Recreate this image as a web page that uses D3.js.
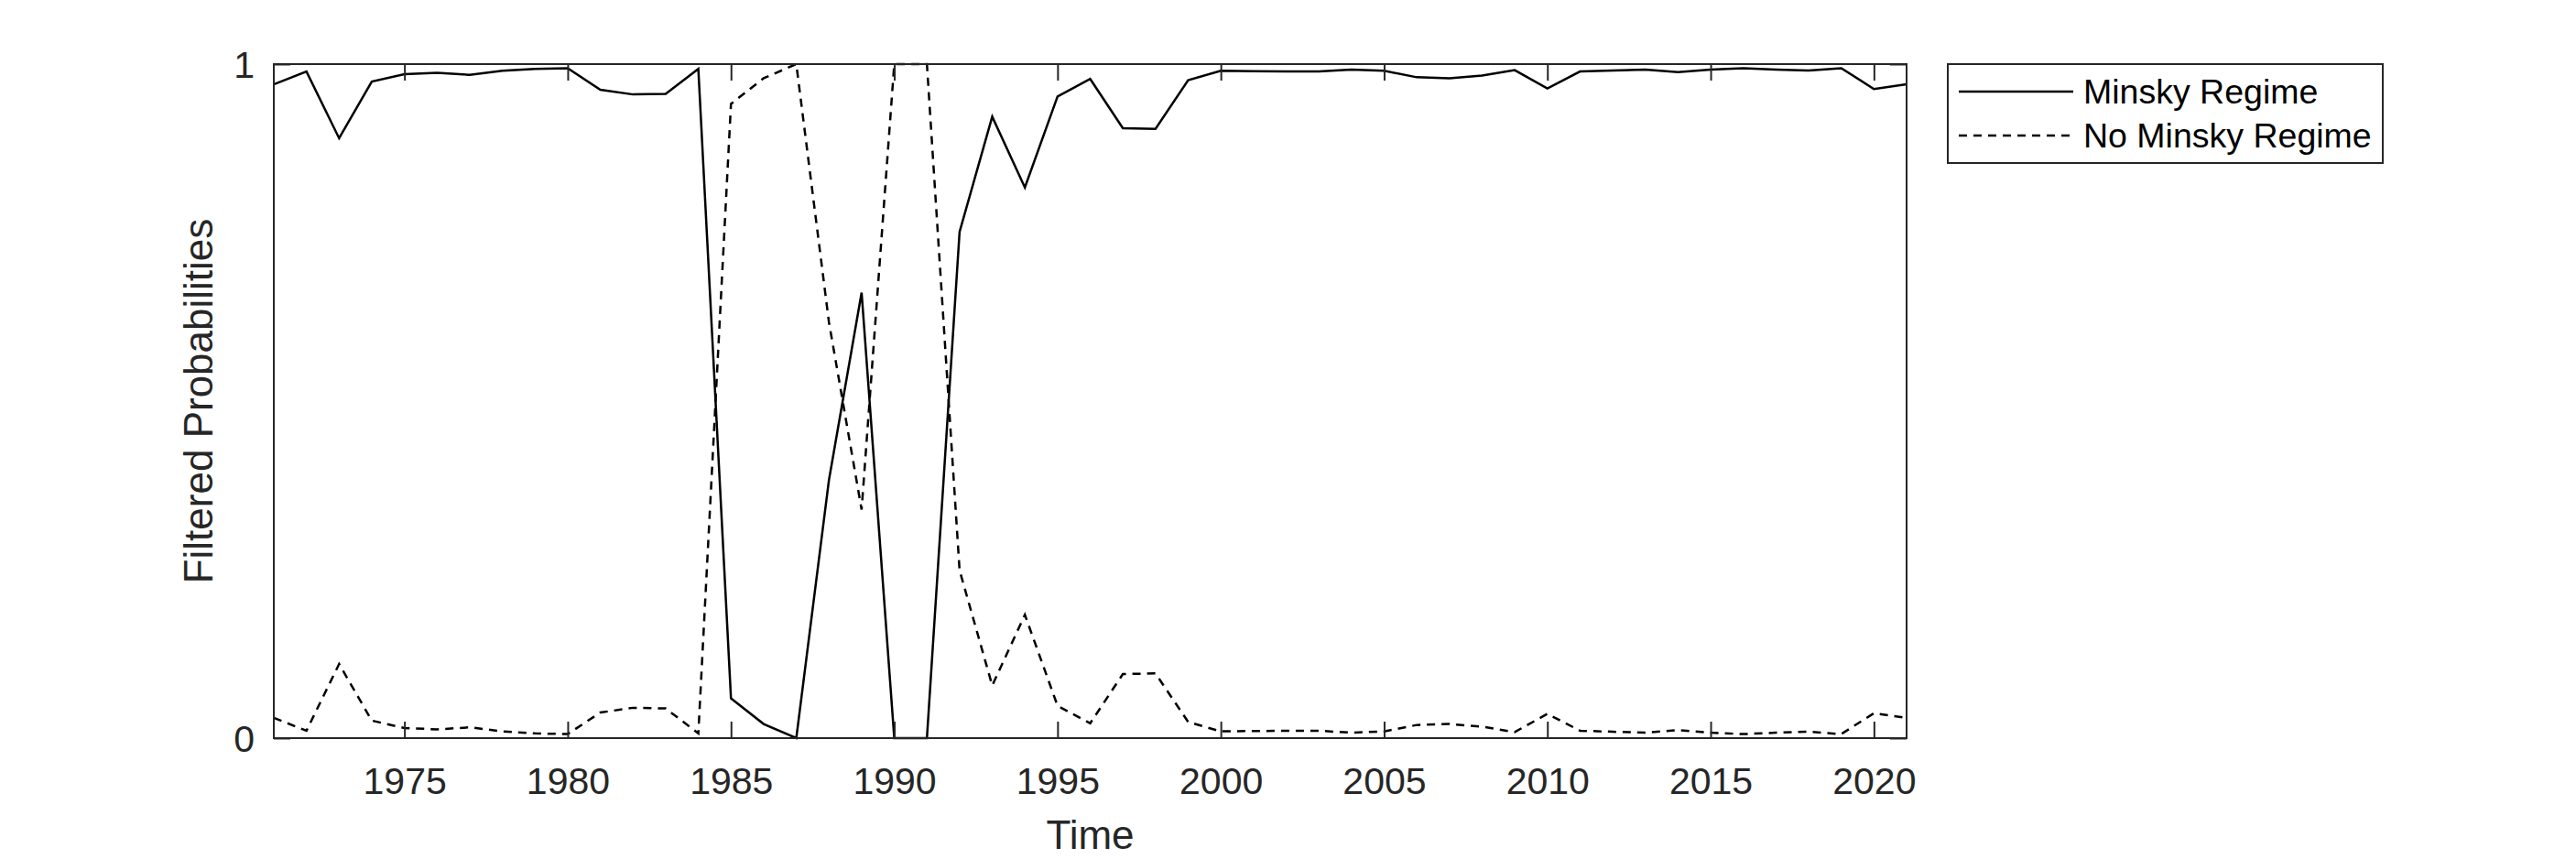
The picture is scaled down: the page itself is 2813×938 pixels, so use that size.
<!DOCTYPE html>
<html>
<head>
<meta charset="utf-8">
<script src="https://cdn.jsdelivr.net/npm/d3@7"></script>
<style>
  html, body { margin: 0; padding: 0; background: #fff; }
  svg { display: block; }
  text { font-family: "Liberation Sans", Arial, Helvetica, sans-serif; fill: #262626; }
</style>
</head>
<body>
<svg id="chart" width="2813" height="938"></svg>
<script>
const years = d3.range(1971, 2022);
const minskyRegime = [
  0.970, 0.989, 0.890, 0.974, 0.985, 0.987, 0.984, 0.990, 0.993, 0.994,
  0.962, 0.955, 0.956, 0.993, 0.059, 0.021, 0.000, 0.383, 0.661, 0.000,
  0.000, 0.751, 0.922, 0.817, 0.952, 0.978, 0.905, 0.904, 0.976, 0.990,
  0.9895, 0.989, 0.989, 0.992, 0.990, 0.9805, 0.979, 0.983, 0.991, 0.964,
  0.989, 0.9905, 0.992, 0.988, 0.992, 0.994, 0.992, 0.9905, 0.994, 0.963,
  0.970
];
const noMinskyRegime = [
  0.030, 0.011, 0.110, 0.026, 0.015, 0.013, 0.016, 0.010, 0.007, 0.006,
  0.038, 0.045, 0.044, 0.007, 0.941, 0.979, 1.000, 0.617, 0.339, 1.000,
  1.000, 0.249, 0.078, 0.183, 0.048, 0.022, 0.095, 0.096, 0.024, 0.010,
  0.0105, 0.011, 0.011, 0.008, 0.010, 0.0195, 0.021, 0.017, 0.009, 0.036,
  0.011, 0.0095, 0.008, 0.012, 0.008, 0.006, 0.008, 0.0095, 0.006, 0.037,
  0.030
];
const xTicks = [1975, 1980, 1985, 1990, 1995, 2000, 2005, 2010, 2015, 2020];
const yTicks = [0, 1];
const seriesNames = ["Minsky Regime", "No Minsky Regime"];
const xLabel = "Time";
const yLabel = "Filtered Probabilities";

const L = 299, R = 2082, T = 70, B = 806;
const svg = d3.select("#chart");
const x = d3.scaleLinear().domain([1971, 2021]).range([L, R]);
const y = d3.scaleLinear().domain([0, 1]).range([B, T]);
const axisColor = "#262626";
const tickLen = 18;

// frame
svg.append("rect").attr("x", L).attr("y", T).attr("width", R - L).attr("height", B - T)
  .attr("fill", "#fff").attr("stroke", "none");

// data lines
const series = [
  { name: seriesNames[0], values: minskyRegime, dash: null },
  { name: seriesNames[1], values: noMinskyRegime, dash: "9,7" }
];
const line = d3.line().x((d, i) => x(years[i])).y(d => y(d));
series.forEach(s => {
  svg.append("path").datum(s.values)
    .attr("d", line)
    .attr("fill", "none")
    .attr("stroke", "#000")
    .attr("stroke-width", 2.5)
    .attr("stroke-linejoin", "miter")
    .attr("stroke-dasharray", s.dash);
});

// axes
const gB = svg.append("g").attr("transform", `translate(0,${B})`)
  .call(d3.axisBottom(x).tickValues(xTicks).tickFormat(d3.format("d")).tickSizeInner(-tickLen).tickSizeOuter(0).tickPadding(0));
gB.selectAll("text").attr("dy", null).attr("y", 61).attr("font-size", 41).style("fill", axisColor);
const gT = svg.append("g").attr("transform", `translate(0,${T})`)
  .call(d3.axisTop(x).tickValues(xTicks).tickFormat("").tickSizeInner(-tickLen).tickSizeOuter(0));
const gL = svg.append("g").attr("transform", `translate(${L},0)`)
  .call(d3.axisLeft(y).tickValues(yTicks).tickFormat(d3.format("d")).tickSizeInner(-tickLen).tickSizeOuter(0).tickPadding(21));
gL.selectAll("text").attr("font-size", 41).attr("dy", "0.36em").style("fill", axisColor);
const gR = svg.append("g").attr("transform", `translate(${R},0)`)
  .call(d3.axisRight(y).tickValues(yTicks).tickFormat("").tickSizeInner(-tickLen).tickSizeOuter(0));
[gB, gT, gL, gR].forEach(g => {
  g.select(".domain").remove();
  g.selectAll(".tick line").attr("stroke", axisColor).attr("stroke-width", 2);
  g.attr("font-family", null);
});

svg.append("rect").attr("x", L).attr("y", T).attr("width", R - L).attr("height", B - T)
  .attr("fill", "none").attr("stroke", axisColor).attr("stroke-width", 2);

// axis labels
svg.append("text").attr("x", (L + R) / 2).attr("y", 927).attr("text-anchor", "middle")
  .attr("font-size", 44).text(xLabel);
svg.append("text").attr("transform", `translate(232,${(T + B) / 2}) rotate(-90)`)
  .attr("text-anchor", "middle").attr("font-size", 44).text(yLabel);

// legend
const lg = svg.append("g");
lg.append("rect").attr("x", 2127).attr("y", 70).attr("width", 475).attr("height", 108)
  .attr("fill", "#fff").attr("stroke", axisColor).attr("stroke-width", 2);
series.forEach((s, i) => {
  const ly = 100 + i * 48;
  lg.append("line").attr("x1", 2139).attr("x2", 2264).attr("y1", ly).attr("y2", ly)
    .attr("stroke", "#000").attr("stroke-width", 2.5).attr("stroke-dasharray", s.dash);
  lg.append("text").attr("x", 2275).attr("y", ly + 13).attr("font-size", 37.5).style("fill", "#000").text(s.name);
});
</script>
</body>
</html>
